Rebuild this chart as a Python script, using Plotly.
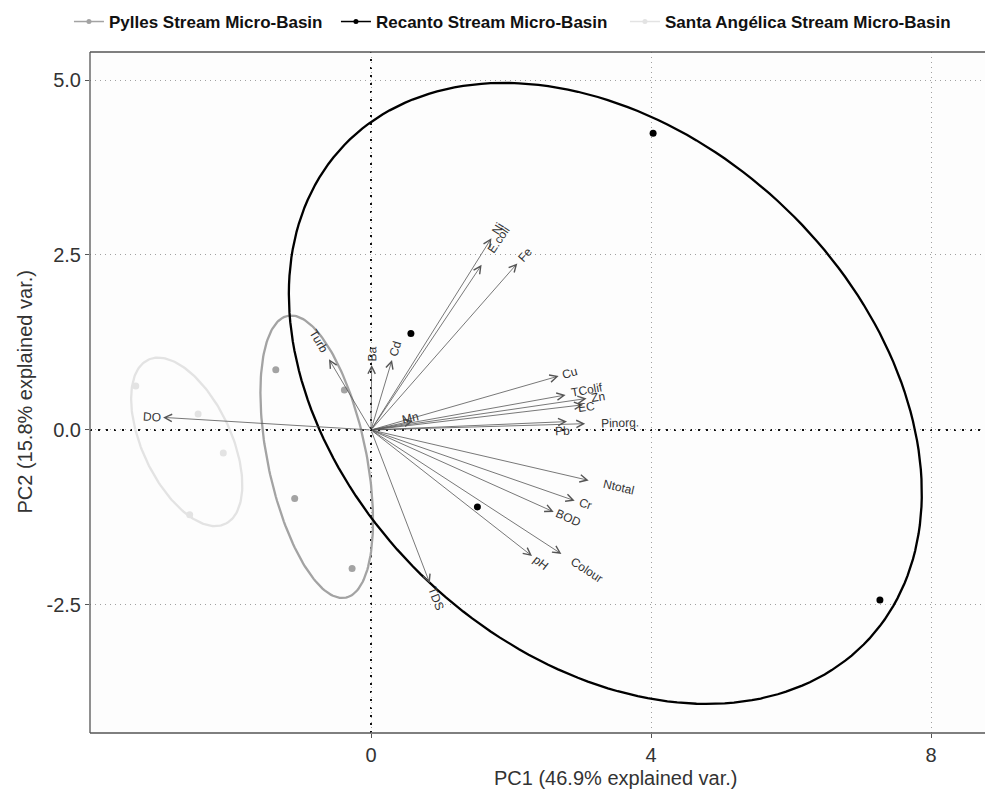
import numpy as np
import plotly.graph_objects as go

# ---------------- data ----------------
groups = ["Pylles Stream Micro-Basin", "Recanto Stream Micro-Basin",
          "Santa Angélica Stream Micro-Basin"]
pc1_pylles = [-1.36, -0.38, -1.09, -0.27]
pc2_pylles = [0.86, 0.57, -0.98, -1.98]
pc1_recanto = [4.03, 0.57, 1.52, 7.27]
pc2_recanto = [4.24, 1.38, -1.10, -2.43]
pc1_santa = [-3.36, -2.47, -2.11, -2.59]
pc2_santa = [0.63, 0.23, -0.33, -1.21]

variables = ["DO", "Turb", "Ba", "Cd", "Ni", "E.coli", "Fe", "Cu", "TColif", "Zn",
             "EC", "Mn", "Pb", "Pinorg.", "Ntotal", "Cr", "BOD", "Colour", "pH", "TDS"]
load_pc1 = [-2.97, -0.60, 0.01, 0.30, 1.72, 1.58, 2.09, 2.68, 2.78, 3.08,
            3.03, 0.60, 2.80, 3.06, 3.11, 2.91, 2.61, 2.72, 2.30, 0.84]
load_pc2 = [0.18, 1.01, 0.93, 1.00, 2.74, 2.36, 2.38, 0.77, 0.50, 0.45,
            0.36, 0.13, 0.12, 0.09, -0.72, -1.01, -1.17, -1.77, -1.80, -2.19]

x_ticks = [0, 4, 8]
y_ticks = [-2.5, 0.0, 2.5, 5.0]
x_title = "PC1 (46.9% explained var.)"
y_title = "PC2 (15.8% explained var.)"
ellipse_prob = 0.68

# ---------------- style ----------------
FONT = "Liberation Sans, Arial, Helvetica, sans-serif"
colors = {"Pylles Stream Micro-Basin": "#a3a3a3",
          "Recanto Stream Micro-Basin": "#000000",
          "Santa Angélica Stream Micro-Basin": "#e3e3e3"}
legend_widths = {"Pylles Stream Micro-Basin": 222,
                 "Recanto Stream Micro-Basin": 244,
                 "Santa Angélica Stream Micro-Basin": 290}
# pixel nudges for crowded labels
label_nudge = {"Pb": (-16, -10), "Mn": (-14, 0), "EC": (-8, -4), "TColif": (-8, 0)}

X_RANGE = [-4.014, 8.771]
Y_RANGE = [-4.329, 5.40]

series = {
    groups[0]: (pc1_pylles, pc2_pylles),
    groups[1]: (pc1_recanto, pc2_recanto),
    groups[2]: (pc1_santa, pc2_santa),
}

fig = go.Figure()

# normal-probability ellipses (as in ggbiplot)
ed = np.sqrt(-2.0 * np.log(1.0 - ellipse_prob))
theta = np.linspace(-np.pi, np.pi, 200)
circle = np.column_stack([np.cos(theta), np.sin(theta)])
for g in groups:
    xs, ys = np.array(series[g][0]), np.array(series[g][1])
    sigma = np.cov(np.vstack([xs, ys]))
    R = np.linalg.cholesky(sigma).T
    ell = circle @ R * ed + np.array([xs.mean(), ys.mean()])
    fig.add_trace(go.Scatter(x=ell[:, 0], y=ell[:, 1], mode="lines",
                             line=dict(color=colors[g], width=2.3),
                             showlegend=False, hoverinfo="skip"))

# points
for g in groups:
    fig.add_trace(go.Scatter(x=series[g][0], y=series[g][1], mode="markers",
                             marker=dict(color=colors[g], size=7),
                             showlegend=False, name=g))

# legend entries
for g in groups:
    fig.add_trace(go.Scatter(x=[None], y=[None], mode="lines+markers", name=g,
                             legendwidth=legend_widths[g],
                             line=dict(color=colors[g], width=1.5),
                             marker=dict(color=colors[g], size=5)))

annotations = []
ARROW_COL = "#555555"
LABEL_SIZE = 12
for v, lx, ly in zip(variables, load_pc1, load_pc2):
    annotations.append(dict(x=lx, y=ly, ax=0, ay=0, xref="x", yref="y",
                            axref="x", ayref="y", text="", showarrow=True,
                            arrowhead=5, arrowsize=1.8, arrowwidth=0.8,
                            arrowcolor=ARROW_COL))
    ang = np.degrees(np.arctan(ly / lx)) if lx != 0 else 90.0
    w = 0.52 * LABEL_SIZE * len(v)
    norm = np.hypot(lx, ly)
    ux, uy = lx / norm, ly / norm
    off = 0.75 * w + 2
    dx, dy = ux * off, uy * off
    nx, ny = label_nudge.get(v, (0, 0))
    annotations.append(dict(x=lx, y=ly, xref="x", yref="y", text=v, showarrow=False,
                            textangle=-ang, xanchor="center", yanchor="middle",
                            xshift=dx + nx, yshift=dy + ny,
                            font=dict(family=FONT, size=LABEL_SIZE, color="#333333")))

# axis titles
annotations.append(dict(text=x_title, xref="paper", yref="paper", x=0.587, y=-0.047,
                        xanchor="center", yanchor="top", showarrow=False,
                        font=dict(family=FONT, size=20, color="#333333")))
annotations.append(dict(text=y_title, xref="paper", yref="paper", x=-0.0737, y=0.5,
                        xanchor="center", yanchor="middle", showarrow=False, textangle=-90,
                        font=dict(family=FONT, size=20, color="#333333")))

fig.update_layout(annotations=annotations)

shapes = [
    # zero lines (black dotted)
    dict(type="line", xref="x", yref="paper", x0=0, x1=0, y0=0, y1=1,
         line=dict(color="#111111", width=2, dash="2px,6px"), layer="below"),
    dict(type="line", xref="paper", yref="y", x0=0, x1=1, y0=0, y1=0,
         line=dict(color="#111111", width=2, dash="2px,6px"), layer="below"),
    # panel border (left, top, bottom)
    dict(type="line", xref="paper", yref="paper", x0=0, x1=0, y0=0, y1=1,
         line=dict(color="#555555", width=1.3)),
    dict(type="line", xref="paper", yref="paper", x0=0, x1=1, y0=1, y1=1,
         line=dict(color="#555555", width=1.3)),
    dict(type="line", xref="paper", yref="paper", x0=0, x1=1, y0=0, y1=0,
         line=dict(color="#555555", width=1.3)),
]

fig.update_layout(
    width=985, height=796,
    margin=dict(l=90, r=0, t=52, b=63, autoexpand=False),
    paper_bgcolor="white", plot_bgcolor="#fdfdfd",
    font=dict(family=FONT, color="#222222"),
    shapes=shapes,
    legend=dict(orientation="h", xref="container", yref="container",
                x=0.070, xanchor="left", y=0.9724, yanchor="middle",
                font=dict(family=FONT, size=17, color="#111111", weight="bold"),
                itemwidth=30, bgcolor="rgba(0,0,0,0)"),
    xaxis=dict(range=X_RANGE, tickvals=x_ticks, ticktext=[str(t) for t in x_ticks],
               showgrid=True, gridcolor="#a0a0a0", griddash="1px,4px", gridwidth=1,
               zeroline=False, showline=False, ticks="outside", ticklen=4,
               tickcolor="#555555", tickfont=dict(size=20, color="#333333"),
               automargin=False),
    yaxis=dict(range=Y_RANGE, tickvals=y_ticks, ticktext=["%.1f" % t for t in y_ticks],
               showgrid=True, gridcolor="#a0a0a0", griddash="1px,4px", gridwidth=1,
               zeroline=False, showline=False, ticks="outside", ticklen=4,
               tickcolor="#555555", tickfont=dict(size=20, color="#333333"),
               automargin=False),
)

fig.write_html("out.html", config={"displayModeBar": False},
               post_script="document.body.style.margin='0';")
